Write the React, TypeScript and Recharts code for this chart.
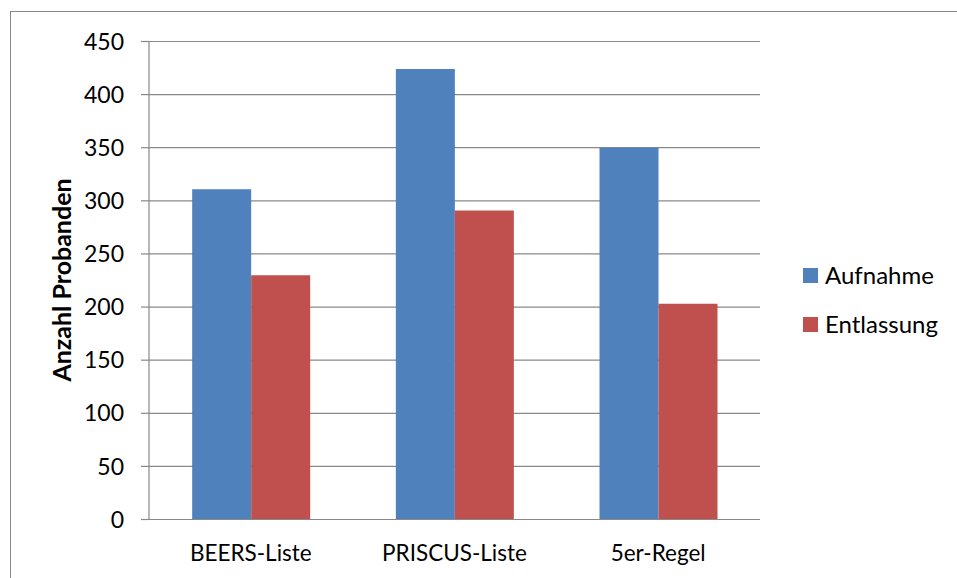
import React from 'react';
import { BarChart, Bar, XAxis, YAxis, CartesianGrid, Label } from 'recharts';

const categories = ['BEERS-Liste', 'PRISCUS-Liste', '5er-Regel'];
const aufnahme = [311, 424, 350];
const entlassung = [230, 291, 203];
const yTicks = [0, 50, 100, 150, 200, 250, 300, 350, 400, 450];

const seriesInfo = [
  { key: 'Aufnahme', color: '#4F81BD' },
  { key: 'Entlassung', color: '#C0504D' },
];

const data = categories.map((name, i) => ({
  name,
  Aufnahme: aufnahme[i],
  Entlassung: entlassung[i],
}));

const FONT = 'Lato, "Open Sans", sans-serif';
const GRID = '#898989';

const LegendBox = () => (
  <div style={{ position: 'absolute', left: 803, top: 263, fontFamily: FONT, fontSize: 24, color: '#000' }}>
    {seriesInfo.map((it) => (
      <div key={it.key} style={{ display: 'flex', alignItems: 'center', height: 24, marginBottom: 25 }}>
        <span style={{ width: 15, height: 15, background: it.color, display: 'inline-block', marginRight: 7 }} />
        <span style={{ lineHeight: '24px' }}>{it.key}</span>
      </div>
    ))}
  </div>
);

const AxisTitle = () => (
  <text
    x={61}
    y={280}
    transform="rotate(-90 61 280)"
    textAnchor="middle"
    dominantBaseline="central"
    fontFamily={FONT}
    fontWeight="bold"
    fontSize={25}
    fill="#000"
  >
    Anzahl Probanden
  </text>
);

export default function App() {
  return (
    <div style={{ position: 'fixed', left: 0, top: 0, width: 957, height: 578, overflow: 'hidden', background: '#fff' }}>
      <div
        style={{
          position: 'absolute',
          left: 10,
          top: 11,
          width: 980,
          height: 600,
          border: '1.5px solid #888',
          boxSizing: 'border-box',
        }}
      />
      <BarChart
        width={957}
        height={578}
        data={data}
        margin={{ top: 41.5, right: 197, bottom: 28.5, left: 89 }}
        barCategoryGap="21.2%"
        barGap={0}
        style={{ position: 'absolute', left: 0, top: 0 }}
      >
        <CartesianGrid vertical={false} stroke={GRID} strokeWidth={1.2} />
        <XAxis
          dataKey="name"
          height={30}
          tickLine={false}
          tickSize={0}
          tickMargin={26}
          axisLine={{ stroke: GRID, strokeWidth: 1.2 }}
          tick={{ fill: '#000', fontSize: 22.5, fontFamily: FONT }}
        />
        <YAxis
          width={60}
          domain={[0, 450]}
          ticks={yTicks}
          interval={0}
          tickSize={8}
          tickMargin={17}
          tickLine={{ stroke: GRID, strokeWidth: 1.2 }}
          axisLine={{ stroke: GRID, strokeWidth: 1.2 }}
          tick={{ fill: '#000', fontSize: 23, fontFamily: FONT }}
        >
          <Label content={<AxisTitle />} />
        </YAxis>
        {seriesInfo.map((s) => (
          <Bar key={s.key} dataKey={s.key} fill={s.color} isAnimationActive={false} />
        ))}
      </BarChart>
      <LegendBox />
    </div>
  );
}
